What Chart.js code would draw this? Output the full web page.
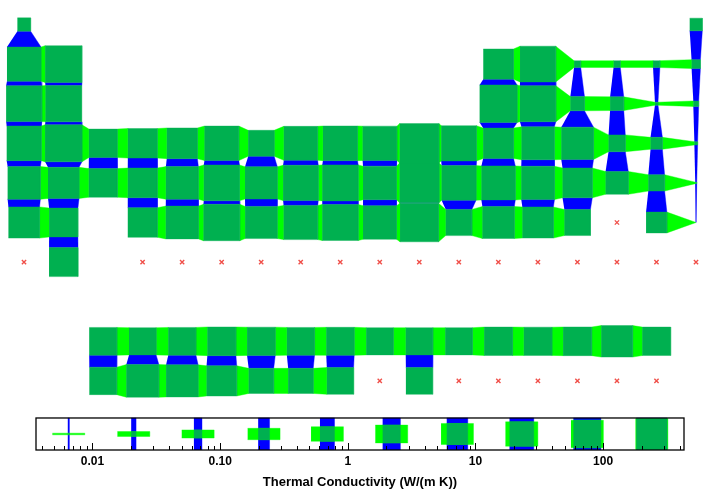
<!DOCTYPE html>
<html><head><meta charset="utf-8">
<script src="https://cdn.jsdelivr.net/npm/chart.js@4.4.1/dist/chart.umd.min.js"></script>
<style>
html,body{margin:0;padding:0;background:#fff;}
#wrap{position:relative;width:720px;height:494px;overflow:hidden;}
#main{position:absolute;left:0;top:0;}
#leg{position:absolute;left:0;top:360px;}
</style></head><body>
<div id="wrap">
<canvas id="main" width="720" height="405"></canvas>
<canvas id="leg" width="720" height="134"></canvas>
</div>
<script>
// ---- data ----
const symbols = ["H","He","Li","Be","B","C","N","O","F","Ne","Na","Mg","Al","Si","P","S","Cl","Ar",
"K","Ca","Sc","Ti","V","Cr","Mn","Fe","Co","Ni","Cu","Zn","Ga","Ge","As","Se","Br","Kr",
"Rb","Sr","Y","Zr","Nb","Mo","Tc","Ru","Rh","Pd","Ag","Cd","In","Sn","Sb","Te","I","Xe",
"Cs","Ba","La","Ce","Pr","Nd","Pm","Sm","Eu","Gd","Tb","Dy","Ho","Er","Tm","Yb","Lu",
"Hf","Ta","W","Re","Os","Ir","Pt","Au","Hg","Tl","Pb","Bi","Po","At","Rn",
"Fr","Ra","Ac","Th","Pa","U","Np","Pu","Am","Cm","Bk","Cf","Es","Fm","Md","No","Lr",
"Rf","Db","Sg","Bh","Hs","Mt","Ds","Rg","Cn","Nh","Fl","Mc","Lv","Ts","Og"];
// thermal conductivity, W/(m K); null = no data
const conductivity = [0.1805,0.1513,85,190,27,140,0.02583,0.02658,0.0277,0.0491,140,160,235,150,0.236,0.205,0.0089,0.01772,
100,200,16,22,31,94,7.8,80,100,91,400,120,29,60,50,0.52,0.12,0.00943,
58,35,17,23,54,139,51,120,150,72,430,97,82,67,24,3,0.449,0.00565,
36,18,13,11,13,17,15,13,14,11,11,11,16,15,17,39,16,
23,57,170,48,88,150,72,320,8.3,46,35,8,null,1.7,0.00361,
null,19,12,54,47,27,6,6,10,null,10,null,null,null,null,null,null,
null,null,null,null,null,null,null,null,null,null,null,null,null,null,null];
const legendValues = [0.0065,0.021,0.067,0.22,0.69,2.2,7.2,23,75,240];
const axisTickValues = [0.01,0.1,1,10,100];
const axisTickLabels = ["0.01","0.10","1","10","100"];
const axisTitle = "Thermal Conductivity (W/(m K))";

// ---- styles ----
const SQUARE = '#00b050', HCONN = '#00ff00', VCONN = '#0000ff', MISSING = '#f0504a';
const FONT = "'Liberation Sans', Arial, Helvetica, sans-serif";

// ---- layout of the periodic table (column, row) ----
function cellOf(z){
  if (z===1) return [1,1];
  if (z===2) return [18,1];
  if (z<=18){ const p = z<=10?2:3; const i = z-(p===2?3:11); return [i<2?i+1:i+11, p]; }
  if (z<=36) return [z-18,4];
  if (z<=54) return [z-36,5];
  if (z<=56) return [z-54,6];
  if (z<=71) return [z-54,9];
  if (z<=86) return [z-68,6];
  if (z<=88) return [z-86,7];
  if (z<=103) return [z-86,10];
  return [z-100,7];
}
const known = conductivity.filter(v=>v!=null);
const vMin = Math.min(...known), vMax = Math.max(...known);
const lMin = Math.log10(vMin), lSpan = Math.log10(vMax)-lMin;
const frac = v => (Math.log10(v)-lMin)/lSpan;

const grid = {};
const missing = [];
symbols.forEach((s,i)=>{
  const [c,r] = cellOf(i+1);
  const v = conductivity[i];
  if (v==null) missing.push({x:c,y:r});
  else grid[c+','+r] = {c,r,s:frac(v)};
});

function shape(pts,color,order){
  return {data:pts, showLine:true, fill:'shape', backgroundColor:color, borderColor:color, borderWidth:0.4,
          pointRadius:0, pointHoverRadius:0, tension:0, order};
}
const datasets = [];
datasets.push({data:missing, showLine:false, pointStyle:'crossRot', pointRadius:3, borderColor:MISSING,
               backgroundColor:MISSING, borderWidth:1.4, order:0});
Object.values(grid).forEach(e=>{
  const h=e.s/2;
  datasets.push(shape([{x:e.c-h,y:e.r-h},{x:e.c+h,y:e.r-h},{x:e.c+h,y:e.r+h},{x:e.c-h,y:e.r+h}],SQUARE,1));
  const right = grid[(e.c+1)+','+e.r];
  if (right){
    const k=right.s/2;
    datasets.push(shape([{x:e.c+h,y:e.r-h},{x:right.c-k,y:e.r-k},{x:right.c-k,y:e.r+k},{x:e.c+h,y:e.r+h}],HCONN,2));
  }
  const below = grid[e.c+','+(e.r+1)];
  if (below){
    const k=below.s/2;
    datasets.push(shape([{x:e.c-h,y:e.r+h},{x:e.c+h,y:e.r+h},{x:e.c+k,y:below.r-k},{x:e.c-k,y:below.r-k}],VCONN,3));
  }
});

new Chart(document.getElementById('main'),{
  type:'scatter',
  data:{datasets},
  options:{
    responsive:false, animation:false, events:[],
    layout:{padding:0, autoPadding:false},
    plugins:{legend:{display:false},tooltip:{enabled:false}},
    scales:{
      x:{type:'linear',min:0.3929,max:18.607,display:false},
      y:{type:'linear',min:0.3813,max:10.6086,reverse:true,display:false}
    }
  }
});

// ---- legend (scale bar) ----
const yHalf = 0.494;          // frame spans -yHalf..yHalf (one legend unit tall)
const UNIT_PX = 32.4;
const unitDec = lSpan/20;     // one legend unit in decades
const legSets = [];
legendValues.forEach(v=>{
  const L = Math.log10(v), f = frac(v), hw = f*unitDec/2, hh = f/2;
  const X = d => Math.pow(10,L+d);
  legSets.push(shape([{x:X(-hw),y:-yHalf},{x:X(hw),y:-yHalf},{x:X(hw),y:yHalf},{x:X(-hw),y:yHalf}],VCONN,3));
  legSets.push(shape([{x:X(-unitDec/2),y:-hh},{x:X(unitDec/2),y:-hh},{x:X(unitDec/2),y:hh},{x:X(-unitDec/2),y:hh}],HCONN,2));
  legSets.push(shape([{x:X(-hw),y:-hh},{x:X(hw),y:-hh},{x:X(hw),y:hh},{x:X(-hw),y:hh}],SQUARE,1));
});

const frameTicks = {
  id:'frameTicks',
  afterLayout(chart){
    const y = chart.scales.y, a = chart.chartArea;
    y.options.max = -yHalf + (a.bottom-a.top)/UNIT_PX;
    y.max = y.options.max;
    y.configure();
  },
  afterDraw(chart){
    const {ctx, chartArea:a, scales:{x,y}} = chart;
    const top = y.getPixelForValue(yHalf), bottom = y.getPixelForValue(-yHalf);
    ctx.save();
    ctx.strokeStyle='#000';
    ctx.lineWidth=1;
    for (let k=-3;k<=2;k++){
      for (let m=1;m<=9;m++){
        const v=m*Math.pow(10,k);
        if (v<vMin||v>vMax) continue;
        const px=Math.round(x.getPixelForValue(v))+0.5;
        const len = m===1?7:4;
        ctx.beginPath(); ctx.moveTo(px,bottom); ctx.lineTo(px,bottom-len); ctx.stroke();
      }
    }
    ctx.lineWidth=1.3;
    ctx.strokeRect(a.left,top,a.right-a.left,bottom-top);
    ctx.restore();
  }
};

new Chart(document.getElementById('leg'),{
  type:'scatter',
  data:{datasets:legSets},
  plugins:[frameTicks],
  options:{
    responsive:false, animation:false, events:[],
    layout:{padding:{left:36,right:36,top:0,bottom:2}, autoPadding:false},
    plugins:{legend:{display:false},tooltip:{enabled:false}},
    scales:{
      x:{type:'logarithmic',min:vMin,max:vMax,position:'bottom',
         afterBuildTicks:(s)=>{ s.ticks = axisTickValues.map(v=>({value:v})); },
         grid:{display:false,drawTicks:false}, border:{display:false},
         ticks:{padding:4,autoSkip:false,maxRotation:0,color:'#000',
                font:{family:FONT,size:12,weight:'bold'},
                callback:(val,i)=>axisTickLabels[i]},
         title:{display:true,text:axisTitle,color:'#000',padding:{top:2,bottom:2},
                font:{family:FONT,size:13,weight:'bold'}}},
      y:{type:'linear',min:-yHalf,max:3,display:false}
    }
  }
});
</script>
</body></html>
